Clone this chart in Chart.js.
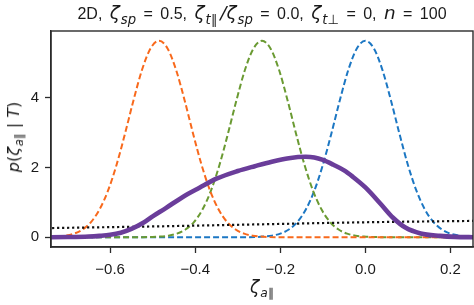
<!DOCTYPE html>
<html>
<head>
<meta charset="utf-8">
<script src="https://cdn.jsdelivr.net/npm/chart.js@4.4.0/dist/chart.umd.min.js"></script>
<style>
  body { margin: 0; background: #fff; }
  #wrap { position: relative; width: 474px; height: 305px; }
  .lbl { position: absolute; white-space: nowrap; color: #1a1a1a; font-family: "Liberation Sans", Arial, sans-serif; line-height: 20px; }
  .m { font-family: "DejaVu Sans", sans-serif; font-style: italic; }
  .u { font-family: "DejaVu Sans", sans-serif; font-style: normal; }
  sub { font-size: 0.72em; vertical-align: -0.35em; line-height: 0; padding-left: 1px; }
  #title { left: 51px; width: 422px; top: 3px; text-align: center; font-size: 16px; word-spacing: 3px; }
  #title .m { font-size: 1.15em; }
  #title .gap { margin-right: 3px; }
  #xlabel { left: 262px; top: 277px; transform: translateX(-50%); font-size: 17px; }
  #ylabel { left: 14px; top: 137px; transform: translate(-50%, -50%) rotate(-90deg); font-size: 16px; }
</style>
</head>
<body>
<div id="wrap">
  <canvas id="chart" width="474" height="305"></canvas>
  <div id="title" class="lbl">2D, <span class="m">ζ<sub>sp</sub></span> = 0.5, <span class="m">ζ<sub>t<span class="u gap">∥</span></sub>/ζ<sub>sp</sub></span> = 0.0, <span class="m">ζ<sub>t<span class="u">⊥</span></sub></span> = 0, <span class="m">n</span> = 100</div>
  <div id="xlabel" class="lbl"><span class="m">ζ<sub>a<span class="u">∥</span></sub></span></div>
  <div id="ylabel" class="lbl"><span class="m">p</span><span class="u">(</span><span class="m">ζ<sub>a<span class="u">∥</span></sub></span><span class="u"> | </span><span class="m">T</span><span class="u">)</span></div>
</div>
<script>
// posterior (thick purple)
const purpleX = [-0.76, -0.70, -0.65, -0.625, -0.60, -0.575, -0.55, -0.52, -0.50, -0.47, -0.43, -0.39, -0.35, -0.30, -0.26, -0.22, -0.18, -0.14, -0.12, -0.10, -0.075, -0.05, -0.03, 0.0, 0.035, 0.065, 0.095, 0.13, 0.175, 0.21, 0.26];
const purpleY = [0, 0.005, 0.02, 0.04, 0.07, 0.13, 0.24, 0.43, 0.6, 0.83, 1.15, 1.42, 1.68, 1.90, 2.04, 2.17, 2.27, 2.31, 2.29, 2.22, 2.08, 1.92, 1.74, 1.43, 0.97, 0.56, 0.27, 0.11, 0.04, 0.01, 0];

// prior (black dotted)
const dotX = [-0.76, -0.5, -0.25, 0.0, 0.26];
const dotY = [0.26, 0.31, 0.37, 0.43, 0.47];

// dashed peaks
const orangeX = [-0.765, -0.745, -0.725, -0.705, -0.685, -0.665, -0.645, -0.625, -0.605, -0.585, -0.565, -0.545, -0.525, -0.505, -0.485, -0.465, -0.445, -0.425, -0.405, -0.385, -0.365, -0.345, -0.325, -0.305, -0.285, -0.265, -0.245, -0.225, -0.185, -0.10, 0.0, 0.10, 0.26];
const orangeY = [0.002, 0.007, 0.018, 0.045, 0.103, 0.221, 0.436, 0.795, 1.336, 2.075, 2.974, 3.935, 4.806, 5.419, 5.64, 5.419, 4.806, 3.935, 2.974, 2.075, 1.336, 0.795, 0.436, 0.221, 0.103, 0.045, 0.018, 0.007, 0.001, 0, 0, 0, 0];

const greenX = [-0.76, -0.583, -0.543, -0.523, -0.503, -0.483, -0.463, -0.443, -0.423, -0.403, -0.383, -0.363, -0.343, -0.323, -0.303, -0.283, -0.263, -0.243, -0.223, -0.203, -0.183, -0.163, -0.143, -0.123, -0.103, -0.083, -0.063, -0.043, -0.023, -0.003, 0.017, 0.037, 0.057, 0.14, 0.26];
const greenY = [0, 0, 0.001, 0.002, 0.007, 0.018, 0.045, 0.103, 0.221, 0.436, 0.795, 1.336, 2.075, 2.974, 3.935, 4.806, 5.419, 5.64, 5.419, 4.806, 3.935, 2.974, 2.075, 1.336, 0.795, 0.436, 0.221, 0.103, 0.045, 0.018, 0.007, 0.002, 0.001, 0, 0];

const blueX = [-0.76, -0.34, -0.30, -0.28, -0.26, -0.24, -0.22, -0.20, -0.18, -0.16, -0.14, -0.12, -0.10, -0.08, -0.06, -0.04, -0.02, 0, 0.02, 0.04, 0.06, 0.08, 0.10, 0.12, 0.14, 0.16, 0.18, 0.20, 0.22, 0.24, 0.26];
const blueY = [0, 0, 0.001, 0.002, 0.007, 0.018, 0.045, 0.103, 0.221, 0.436, 0.795, 1.336, 2.075, 2.974, 3.935, 4.806, 5.419, 5.64, 5.419, 4.806, 3.935, 2.974, 2.075, 1.336, 0.795, 0.436, 0.221, 0.103, 0.045, 0.018, 0.007];

const xTicks = [-0.6, -0.4, -0.2, 0.0, 0.2];
const yTicks = [0, 2, 4];

function pts(xs, ys) {
  return xs.map((x, i) => ({ x: x, y: ys[i] }));
}

function fmt(v, digits) {
  return (v < 0 ? "\u2212" : "") + Math.abs(v).toFixed(digits);
}

function line(xs, ys, color, width, dash) {
  return {
    data: pts(xs, ys),
    borderColor: color,
    borderWidth: width,
    borderDash: dash,
    pointRadius: 0,
    fill: false,
    cubicInterpolationMode: "monotone",
    clip: 0,
  };
}

// box around the plot area, like matplotlib spines
const frame = {
  id: "frame",
  afterDraw(chart) {
    const { ctx, chartArea: a } = chart;
    ctx.save();
    ctx.strokeStyle = "#2b2b2b";
    ctx.lineWidth = 1.4;
    ctx.strokeRect(a.left, a.top, a.right - a.left, a.bottom - a.top);
    ctx.restore();
  },
};

const tickFont = { family: "'Liberation Sans', Arial, sans-serif", size: 15 };

new Chart(document.getElementById("chart"), {
  type: "line",
  data: {
    datasets: [
      line(purpleX, purpleY, "#6a3d9a", 4.6, []),
      line(dotX, dotY, "#111111", 2.2, [2.2, 2.8]),
      line(orangeX, orangeY, "#f8691c", 2, [6, 3]),
      line(greenX, greenY, "#6a9a32", 2, [6, 3]),
      line(blueX, blueY, "#1c77c3", 2, [6, 3]),
    ],
  },
  options: {
    responsive: false,
    animation: false,
    layout: { padding: { top: 31, right: 1, left: 0, bottom: 0 } },
    plugins: { legend: { display: false }, tooltip: { enabled: false } },
    scales: {
      x: {
        type: "linear",
        min: -0.739,
        max: 0.253,
        afterBuildTicks: (s) => { s.ticks = xTicks.map((v) => ({ value: v })); },
        afterFit: (s) => { s.height = 58; },
        ticks: { font: tickFont, color: "#1a1a1a", padding: 8, maxRotation: 0, callback: (v) => fmt(v, 1) },
        grid: { drawOnChartArea: false, drawTicks: true, tickLength: 6, tickWidth: 1.3, tickColor: "#2b2b2b" },
        border: { display: true, color: "#2b2b2b", width: 1.4 },
      },
      y: {
        min: -0.28,
        max: 5.92,
        afterBuildTicks: (s) => { s.ticks = yTicks.map((v) => ({ value: v })); },
        afterFit: (s) => { s.width = 51; },
        ticks: { font: tickFont, color: "#1a1a1a", padding: 6, callback: (v) => fmt(v, 0) },
        grid: { drawOnChartArea: false, drawTicks: true, tickLength: 6, tickWidth: 1.3, tickColor: "#2b2b2b" },
        border: { display: true, color: "#2b2b2b", width: 1.4 },
      },
    },
  },
  plugins: [frame],
});
</script>
</body>
</html>
